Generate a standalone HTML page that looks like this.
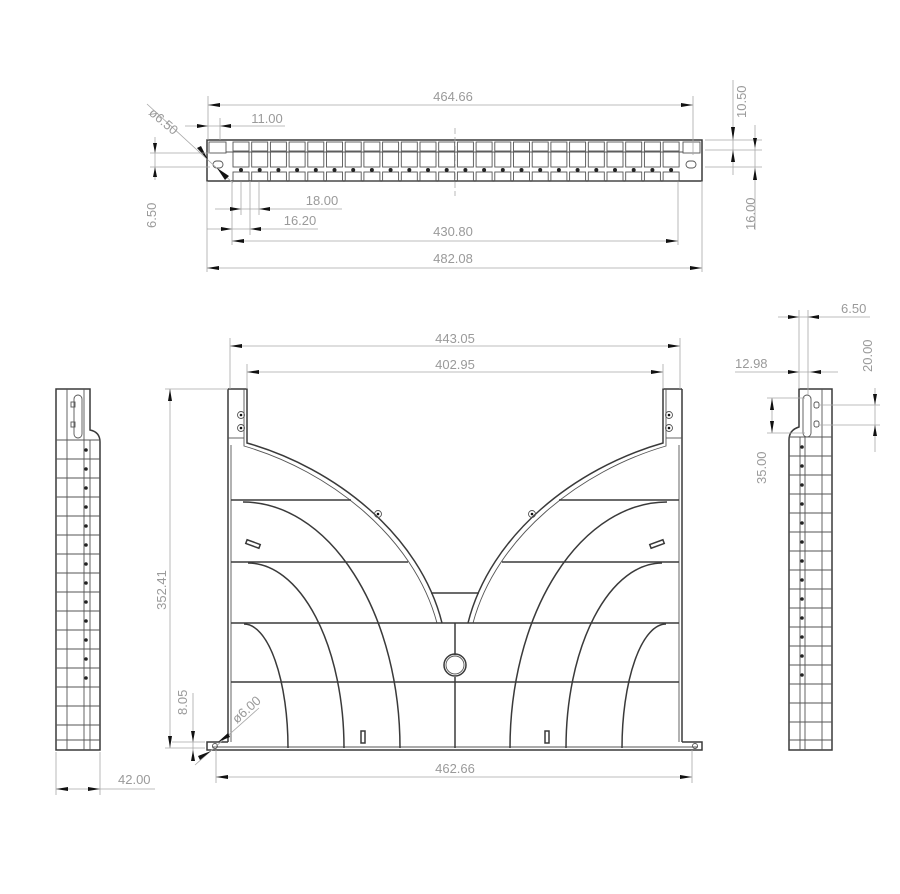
<!DOCTYPE html>
<html><head><meta charset="utf-8"><style>
html,body{margin:0;padding:0;background:#fff;}
svg{display:block;}
text{font-family:"Liberation Sans",sans-serif;font-size:13px;fill:#9a9a9a;}
.p{stroke:#3a3a3a;stroke-width:1.5;fill:none;}
.t{stroke:#555;stroke-width:0.9;fill:none;}
.d{stroke:#a8a8a8;stroke-width:0.8;fill:none;}
.a{fill:#111;}
</style></head><body>
<svg id="s" width="900" height="894" viewBox="0 0 900 894" xmlns="http://www.w3.org/2000/svg">
<g id="top">
<rect class="p" x="207" y="140" width="495" height="41"/>
<line class="t" x1="226" y1="152" x2="683" y2="152"/>
<rect class="t" x="209" y="142" width="17" height="11"/>
<rect class="t" x="683" y="142" width="17" height="11"/>
<rect class="t" x="213" y="161" width="10" height="7" rx="3.5"/>
<rect class="t" x="686" y="161" width="10" height="7" rx="3.5"/>
<line class="d" x1="455" y1="128" x2="455" y2="196" stroke-dasharray="6 3"/>
</g>
<g>
<line class="d" x1="208" y1="96" x2="208" y2="140"/><line class="d" x1="693" y1="96" x2="693" y2="155"/>
<line class="d" x1="208" y1="105" x2="693" y2="105"/>
<polygon class="a" points="208,105 220,103 220,107"/><polygon class="a" points="693,105 681,103 681,107"/>
<text x="453" y="101" text-anchor="middle">464.66</text>
<line class="d" x1="220" y1="118" x2="220" y2="140"/>
<line class="d" x1="185" y1="126" x2="285" y2="126"/>
<polygon class="a" points="208,126 197,124 197,128"/><polygon class="a" points="220,126 231,124 231,128"/>
<text x="267" y="123" text-anchor="middle">11.00</text>
<line class="d" x1="147" y1="104" x2="233" y2="183"/>
<polygon class="a" points="208,160 197,148 201,146"/><polygon class="a" points="217,168 229,176 225,180"/>
<text x="0" y="0" transform="translate(148,114) rotate(40)">ø6.50</text>
<line class="d" x1="150" y1="153" x2="210" y2="153"/><line class="d" x1="150" y1="167" x2="210" y2="167"/>
<line class="d" x1="155" y1="137" x2="155" y2="180"/>
<polygon class="a" points="155,153 153,143 157,143"/><polygon class="a" points="155,167 153,177 157,177"/>
<text transform="translate(156,228) rotate(-90)">6.50</text>
<line class="d" x1="705" y1="140" x2="762" y2="140"/><line class="d" x1="705" y1="150" x2="762" y2="150"/><line class="d" x1="705" y1="167" x2="762" y2="167"/>
<line class="d" x1="733" y1="80" x2="733" y2="175"/>
<polygon class="a" points="733,140 731,127 735,127"/><polygon class="a" points="733,150 731,162 735,162"/>
<text transform="translate(746,118) rotate(-90)">10.50</text>
<line class="d" x1="755" y1="125" x2="755" y2="230"/>
<polygon class="a" points="755,148 753,138 757,138"/><polygon class="a" points="755,168 753,180 757,180"/>
<text transform="translate(755,230) rotate(-90)">16.00</text>
<line class="d" x1="232" y1="181" x2="232" y2="245"/><line class="d" x1="241" y1="181" x2="241" y2="215"/><line class="d" x1="259" y1="181" x2="259" y2="215"/><line class="d" x1="250" y1="181" x2="250" y2="235"/>
<line class="d" x1="207" y1="181" x2="207" y2="272"/><line class="d" x1="702" y1="181" x2="702" y2="272"/><line class="d" x1="678" y1="181" x2="678" y2="245"/>
<line class="d" x1="215" y1="209" x2="342" y2="209"/>
<polygon class="a" points="241,209 230,207 230,211"/><polygon class="a" points="259,209 270,207 270,211"/>
<text x="322" y="205" text-anchor="middle">18.00</text>
<line class="d" x1="207" y1="229" x2="318" y2="229"/>
<polygon class="a" points="232,229 221,227 221,231"/><polygon class="a" points="250,229 261,227 261,231"/>
<text x="300" y="225" text-anchor="middle">16.20</text>
<line class="d" x1="232" y1="241" x2="678" y2="241"/>
<polygon class="a" points="232,241 244,239 244,243"/><polygon class="a" points="678,241 666,239 666,243"/>
<text x="453" y="236" text-anchor="middle">430.80</text>
<line class="d" x1="207" y1="268" x2="702" y2="268"/>
<polygon class="a" points="207,268 219,266 219,270"/><polygon class="a" points="702,268 690,266 690,270"/>
<text x="453" y="263" text-anchor="middle">482.08</text>
</g>

<g>
<path class="p" d="M228,389 L247,389 L247,443 C335,468 420,535 442,623"/>
<path class="t" d="M244,389 L244,446 C330,471 414,537 437,623"/>
<path class="p" d="M682,389 L663,389 L663,443 C575,468 490,535 468,623"/>
<path class="t" d="M666,389 L666,446 C580,471 496,537 473,623"/>
<line class="p" x1="228" y1="389" x2="228" y2="742"/><line class="p" x1="682" y1="389" x2="682" y2="742"/>
<line class="t" x1="231" y1="445" x2="231" y2="742"/><line class="t" x1="679" y1="445" x2="679" y2="742"/>
<line class="t" x1="228" y1="438" x2="244" y2="438"/><line class="t" x1="666" y1="438" x2="682" y2="438"/>
<path class="p" d="M228,742 L207,742 L207,750 L702,750 L702,742 L682,742"/>
<line class="t" x1="212" y1="747" x2="698" y2="747"/>
<line class="p" x1="231" y1="500" x2="351" y2="500"/><line class="p" x1="559" y1="500" x2="679" y2="500"/>
<line class="p" x1="231" y1="562" x2="408" y2="562"/><line class="p" x1="502" y1="562" x2="679" y2="562"/>
<line class="p" x1="431" y1="593" x2="479" y2="593"/>
<line class="p" x1="231" y1="623" x2="679" y2="623"/>
<line class="p" x1="231" y1="682" x2="679" y2="682"/>
<path class="p" d="M243,502 A157,246 0 0 1 400,748"/>
<path class="p" d="M248,563 A96,185 0 0 1 344,748"/>
<path class="p" d="M244,624 A44,124 0 0 1 288,748"/>
<path class="p" d="M667,502 A157,246 0 0 0 510,748"/>
<path class="p" d="M662,563 A96,185 0 0 0 566,748"/>
<path class="p" d="M666,624 A44,124 0 0 0 622,748"/>
<line class="p" x1="455" y1="623" x2="455" y2="655"/><line class="p" x1="455" y1="677" x2="455" y2="748"/>
<circle class="p" cx="455" cy="665" r="11"/><circle class="t" cx="455" cy="665" r="9"/>
<g class="t"><circle cx="241" cy="415" r="3.5"/><circle cx="241" cy="428" r="3.5"/><circle cx="669" cy="415" r="3.5"/><circle cx="669" cy="428" r="3.5"/>
<circle cx="378" cy="514" r="3.5"/><circle cx="532" cy="514" r="3.5"/></g>
<g class="a"><circle cx="241" cy="415" r="1.3"/><circle cx="241" cy="428" r="1.3"/><circle cx="669" cy="415" r="1.3"/><circle cx="669" cy="428" r="1.3"/><circle cx="378" cy="514" r="1.3"/><circle cx="532" cy="514" r="1.3"/></g>
<rect class="p" x="246" y="542" width="14" height="4" transform="rotate(20 253 544)"/>
<rect class="p" x="650" y="542" width="14" height="4" transform="rotate(-20 657 544)"/>
<rect class="p" x="361" y="731" width="4" height="12"/><rect class="p" x="545" y="731" width="4" height="12"/>
<circle class="t" cx="215" cy="746" r="2.5"/><circle class="t" cx="695" cy="746" r="2.5"/>
</g>
<g>
<line class="d" x1="230" y1="338" x2="230" y2="389"/><line class="d" x1="680" y1="338" x2="680" y2="389"/>
<line class="d" x1="230" y1="346" x2="680" y2="346"/>
<polygon class="a" points="230,346 242,344 242,348"/><polygon class="a" points="680,346 668,344 668,348"/>
<text x="455" y="343" text-anchor="middle">443.05</text>
<line class="d" x1="247" y1="364" x2="247" y2="389"/><line class="d" x1="663" y1="364" x2="663" y2="389"/>
<line class="d" x1="247" y1="372" x2="663" y2="372"/>
<polygon class="a" points="247,372 259,370 259,374"/><polygon class="a" points="663,372 651,370 651,374"/>
<text x="455" y="369" text-anchor="middle">402.95</text>
<line class="d" x1="165" y1="389" x2="228" y2="389"/><line class="d" x1="165" y1="748" x2="205" y2="748"/>
<line class="d" x1="170" y1="389" x2="170" y2="748"/>
<polygon class="a" points="170,389 168,401 172,401"/><polygon class="a" points="170,748 168,736 172,736"/>
<text transform="translate(166,590) rotate(-90)" text-anchor="middle">352.41</text>
<line class="d" x1="172" y1="742" x2="205" y2="742"/>
<line class="d" x1="193" y1="693" x2="193" y2="760"/>
<polygon class="a" points="193,742 191,731 195,731"/><polygon class="a" points="193,750 191,761 195,761"/>
<text transform="translate(187,715) rotate(-90)">8.05</text>
<line class="d" x1="195" y1="765" x2="259" y2="708"/>
<polygon class="a" points="211,751 200,760 198,756"/><polygon class="a" points="218,742 228,733 230,737"/>
<text transform="translate(237,724) rotate(-42)">ø6.00</text>
<line class="d" x1="216" y1="750" x2="216" y2="783"/><line class="d" x1="692" y1="750" x2="692" y2="783"/>
<line class="d" x1="216" y1="777" x2="692" y2="777"/>
<polygon class="a" points="216,777 228,775 228,779"/><polygon class="a" points="692,777 680,775 680,779"/>
<text x="455" y="773" text-anchor="middle">462.66</text>
</g>

<g id="ls">
<path class="p" d="M56,389 L90,389 L90,430 Q100,432 100,442 L100,750 L56,750 Z"/>
<line class="t" x1="67" y1="389" x2="67" y2="750"/><line class="t" x1="84" y1="389" x2="84" y2="750"/><line class="t" x1="90" y1="440" x2="90" y2="750"/>
<rect class="t" x="74" y="395" width="8" height="43" rx="4"/>
<rect class="t" x="71" y="402" width="4" height="5"/><rect class="t" x="71" y="422" width="4" height="5"/>
<line class="t" x1="56" y1="440" x2="100" y2="440"/>
<line class="t" x1="56" y1="740" x2="100" y2="740"/>
<line class="d" x1="56" y1="752" x2="56" y2="795"/><line class="d" x1="100" y1="752" x2="100" y2="795"/>
<line class="d" x1="56" y1="789" x2="155" y2="789"/>
<polygon class="a" points="56,789 68,787 68,791"/><polygon class="a" points="100,789 88,787 88,791"/>
<text x="118" y="784">42.00</text>
</g>
<g id="rs">
<path class="p" d="M832,389 L799,389 L799,427 Q789,430 789,440 L789,750 L832,750 Z"/>
<line class="t" x1="822" y1="389" x2="822" y2="750"/><line class="t" x1="805" y1="437" x2="805" y2="750"/><line class="t" x1="800" y1="437" x2="800" y2="750"/>
<rect class="t" x="803" y="395" width="8" height="42" rx="4"/>
<rect class="t" x="814" y="402" width="5" height="6" rx="2"/><rect class="t" x="814" y="421" width="5" height="6" rx="2"/>
<line class="t" x1="789" y1="437" x2="832" y2="437"/>
<line class="t" x1="789" y1="740" x2="832" y2="740"/>
<line class="d" x1="799" y1="310" x2="799" y2="389"/><line class="d" x1="808" y1="310" x2="808" y2="395"/>
<line class="d" x1="778" y1="317" x2="870" y2="317"/>
<polygon class="a" points="799,317 788,315 788,319"/><polygon class="a" points="808,317 819,315 819,319"/>
<text x="841" y="313">6.50</text>
<line class="d" x1="735" y1="372" x2="838" y2="372"/>
<polygon class="a" points="799,372 788,370 788,374"/><polygon class="a" points="810,372 821,370 821,374"/>
<text x="735" y="368">12.98</text>
<line class="d" x1="818" y1="405" x2="880" y2="405"/><line class="d" x1="818" y1="425" x2="880" y2="425"/>
<line class="d" x1="875" y1="388" x2="875" y2="452"/>
<polygon class="a" points="875,405 873,394 877,394"/><polygon class="a" points="875,425 873,436 877,436"/>
<text transform="translate(872,372) rotate(-90)">20.00</text>
<line class="d" x1="767" y1="398" x2="805" y2="398"/><line class="d" x1="767" y1="433" x2="805" y2="433"/>
<line class="d" x1="772" y1="398" x2="772" y2="433"/>
<polygon class="a" points="772,398 770,410 774,410"/><polygon class="a" points="772,433 770,421 774,421"/>
<text transform="translate(766,484) rotate(-90)">35.00</text>
</g>
<g id="gen"></g>
</svg>
<script>
var NS="http://www.w3.org/2000/svg",g=document.getElementById("gen");
function el(t,a){var e=document.createElementNS(NS,t);for(var k in a)e.setAttribute(k,a[k]);g.appendChild(e);return e;}
for(var i=0;i<24;i++){var x=233+i*18.7;
el("rect",{x:x,y:142,width:16,height:9,"class":"t"});
el("rect",{x:x,y:152,width:16,height:15,"class":"t"});
el("rect",{x:x,y:172,width:16,height:9,"class":"t"});
el("circle",{cx:x+8,cy:170,r:2,fill:"#222"});}
for(var j=0;j<16;j++){var y=440+j*19;
el("line",{x1:56,y1:y,x2:100,y2:y,"class":"t"});
el("line",{x1:789,y1:y-3,x2:832,y2:y-3,"class":"t"});
if(j<13){el("circle",{cx:86,cy:y+10,r:1.8,fill:"#222"});el("circle",{cx:802,cy:y+7,r:1.8,fill:"#222"});}}
</script>
</body></html>
